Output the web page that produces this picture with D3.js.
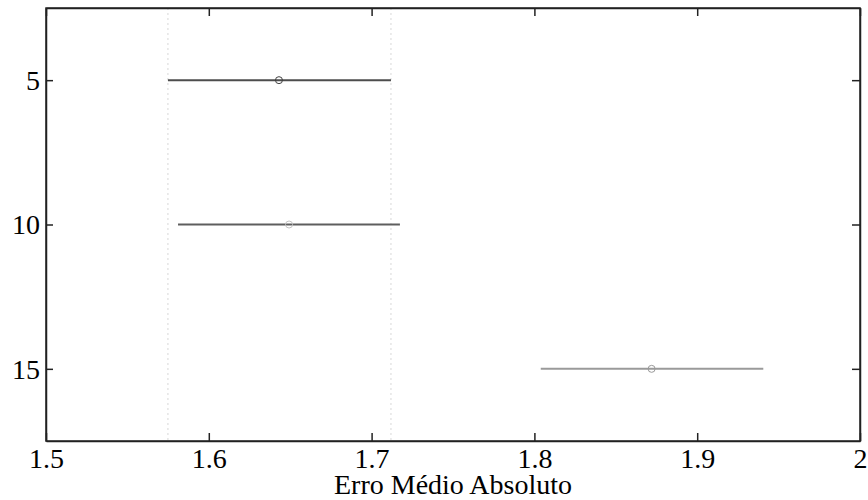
<!DOCTYPE html>
<html>
<head>
<meta charset="utf-8">
<script src="https://cdn.jsdelivr.net/npm/d3@7"></script>
<style>
  html, body { margin: 0; padding: 0; background: #fff; }
  svg { display: block; }
</style>
</head>
<body>
<svg id="chart" width="868" height="500"></svg>
<script>
// Groups (number of neighbours) and their comparison intervals of mean absolute error
const groups = [5, 10, 15];
const lower = [1.5749, 1.5811, 1.8039];
const means = [1.6431, 1.6493, 1.8720];
const upper = [1.7119, 1.7174, 1.9406];
const lineColors = ["#4d4d4d", "#5e5e5e", "#9a9a9a"];
const markerColors = ["#404040", "#c4c4c4", "#9a9a9a"];
const xTicks = [1.5, 1.6, 1.7, 1.8, 1.9, 2];
const xLabel = "Erro Médio Absoluto";

const serif = '"Liberation Serif"';
const fs = "28px";
const svg = d3.select("#chart");
const m = { left: 46, top: 8, right: 860, bottom: 441 };

const x = d3.scaleLinear().domain([1.5, 2]).range([m.left, m.right]);
const y = d3.scaleLinear().domain([2.5, 17.5]).range([m.top, m.bottom]);

// reference lines at the interval of the first group
const refs = [lower[0], upper[0]];
svg.selectAll("line.ref").data(refs).enter().append("line")
  .attr("class", "ref")
  .attr("x1", d => x(d)).attr("x2", d => x(d))
  .attr("y1", m.top).attr("y2", m.bottom)
  .attr("stroke", "#d8d8d8").attr("stroke-width", 1)
  .attr("stroke-dasharray", "2,3");

// interval lines
svg.selectAll("line.ci").data(groups).enter().append("line")
  .attr("class", "ci")
  .attr("x1", (d, i) => x(lower[i])).attr("x2", (d, i) => x(upper[i]))
  .attr("y1", d => y(d)).attr("y2", d => y(d))
  .attr("stroke", (d, i) => lineColors[i]).attr("stroke-width", 2);

// group means
svg.selectAll("circle.mean").data(groups).enter().append("circle")
  .attr("class", "mean")
  .attr("cx", (d, i) => x(means[i])).attr("cy", d => y(d))
  .attr("r", 3.5)
  .attr("fill", "none")
  .attr("stroke", (d, i) => markerColors[i]).attr("stroke-width", 1);

// axes with inward ticks on all four sides
const bottomAxis = d3.axisBottom(x).tickValues(xTicks).tickSizeInner(-8).tickSizeOuter(0)
  .tickFormat(d3.format("~g"));
const gb = svg.append("g").attr("transform", `translate(0,${m.bottom})`).call(bottomAxis);
gb.selectAll("text").attr("y", 27).attr("dy", null).attr("fill", "#000")
  .style("font-family", serif).style("font-size", fs);

const topAxis = d3.axisTop(x).tickValues(xTicks).tickSizeInner(-8).tickSizeOuter(0).tickFormat("");
svg.append("g").attr("transform", `translate(0,${m.top})`).call(topAxis);

const leftAxis = d3.axisLeft(y).tickValues(groups).tickSizeInner(-7).tickSizeOuter(0)
  .tickFormat(d3.format("d"));
const gl = svg.append("g").attr("transform", `translate(${m.left},0)`).call(leftAxis);
gl.selectAll("text").attr("x", -6).attr("dy", "0.33em").attr("fill", "#000")
  .style("font-family", serif).style("font-size", fs);

const rightAxis = d3.axisRight(y).tickValues(groups).tickSizeInner(-8).tickSizeOuter(0).tickFormat("");
svg.append("g").attr("transform", `translate(${m.right},0)`).call(rightAxis);

svg.selectAll(".domain").attr("stroke", "#222").attr("stroke-width", 1.5);
svg.selectAll(".tick line").attr("stroke", "#222").attr("stroke-width", 1.5);

// axis box
svg.append("rect")
  .attr("x", m.left).attr("y", m.top)
  .attr("width", m.right - m.left).attr("height", m.bottom - m.top)
  .attr("fill", "none").attr("stroke", "#222").attr("stroke-width", 1.5);

svg.append("text")
  .attr("x", (m.left + m.right) / 2).attr("y", 494)
  .attr("text-anchor", "middle")
  .style("font-family", serif).style("font-size", fs)
  .text(xLabel);
</script>
</body>
</html>
